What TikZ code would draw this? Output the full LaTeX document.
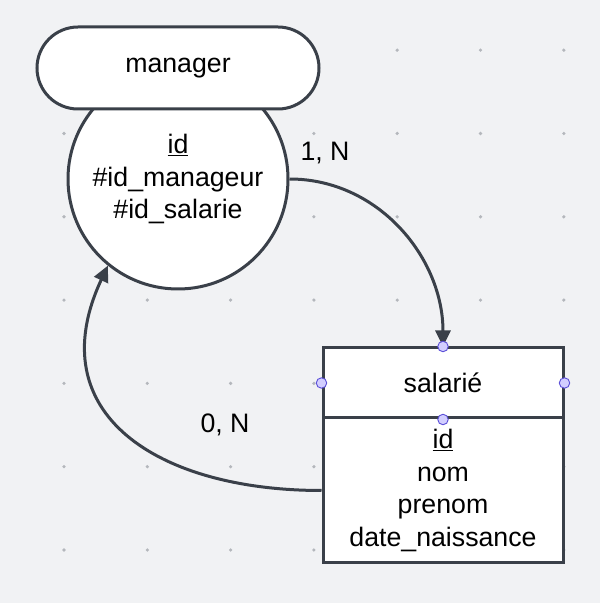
\documentclass[tikz,border=0pt]{standalone}
\usepackage{fontspec}
\setmainfont{Liberation Sans}
\usetikzlibrary{arrows.meta}

\definecolor{bgcol}{HTML}{F1F2F4}
\definecolor{linecol}{HTML}{3A4049}
\definecolor{dotcol}{HTML}{B4B7BC}
\definecolor{hdlfill}{HTML}{D2CEFF}
\definecolor{hdldraw}{HTML}{5B4FD8}

\begin{document}
\begin{tikzpicture}[x=1pt, y=1pt,
        box/.style={draw=linecol, line width=3pt, fill=white, align=center,
            font=\fontsize{26.7}{32.5}\selectfont, inner sep=0pt},
        conn/.style={draw=linecol, line width=3pt, -{Triangle[length=16pt, width=15pt]}},
        card/.style={font=\fontsize{26.7}{32.5}\selectfont, text=black},
        handle/.style={circle, fill=hdlfill, draw=hdldraw, line width=0.9pt,
            minimum size=10.5pt, inner sep=0pt}]
            \fill [bgcol] (0,0) rectangle (600,603);
            \foreach \i in {0,...,6}
                \foreach \j in {0,...,6}
                    \fill [dotcol] (64+83.3*\i, 53+83.3*\j) circle (1.8);
            % association
            \node [box, circle, minimum size=220pt] (assoc) at (178,424)
                {\underline{id}\\\#id\_manageur\\\#id\_salarie};
            \node [box, rectangle, rounded corners=41pt, minimum width=282pt,
                minimum height=82pt] (mgr) at (178,535) {manager};
            % entity
            \node [box, rectangle, minimum width=240pt, minimum height=70pt]
                (salhead) at (443,220) {salari\'e};
            \node [box, rectangle, minimum width=240pt, minimum height=145pt]
                (salbody) at (443,112.5) {\underline{id}\\nom\\prenom\\date\_naissance};
            % links
            \draw [conn] (assoc.east) to [out=0, in=90] (salhead.north);
            \draw [conn] (salbody.west) to [out=180, in=245, looseness=1.35] (assoc.231);
            \node [card] (card1) at (325,450) {1, N};
            \node [card] (card2) at (225,178) {0, N};
            % handles
            \node [handle] (h1) at (salhead.north) {};
            \node [handle] (h2) at (salhead.west) {};
            \node [handle] (h3) at (salhead.east) {};
            \node [handle] (h4) at (salhead.south) {};
        \end{tikzpicture}
\end{document}
